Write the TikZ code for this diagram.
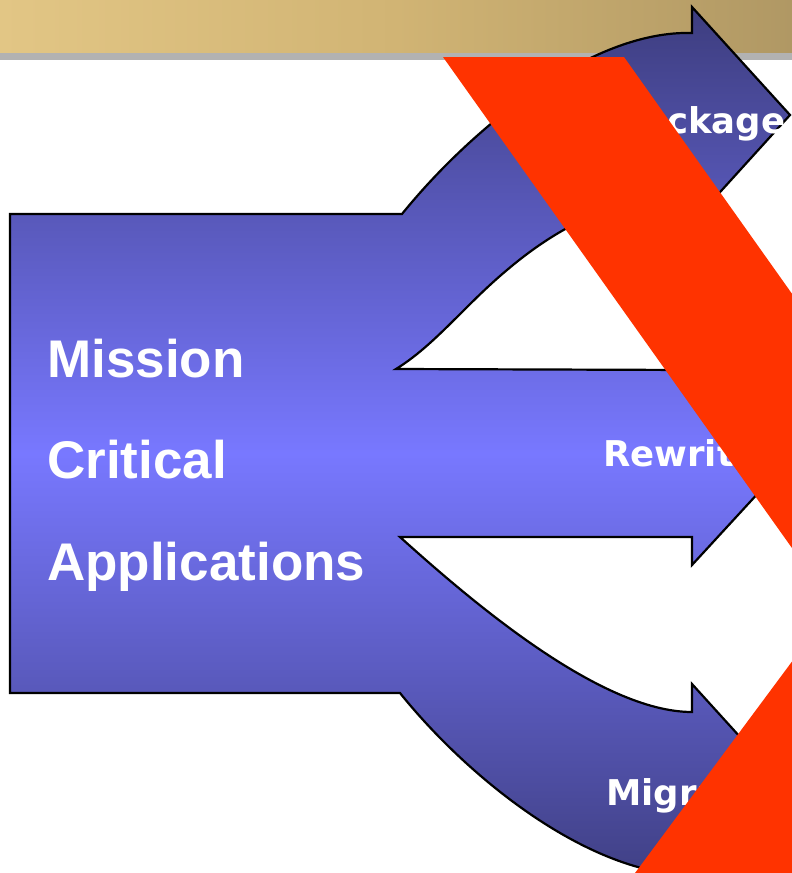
\documentclass[tikz,border=0pt]{standalone}
\usepackage{fontspec}
\setmainfont{Liberation Sans}
\newfontfamily\labelfont{DejaVu Sans}
\definecolor{bandL}{HTML}{E2C685}
\definecolor{bandM}{HTML}{D1B474}
\definecolor{bandR}{HTML}{B09864}
\definecolor{stripgray}{HTML}{B2B2B2}
\definecolor{arrowDark}{HTML}{3D3D7E}
\definecolor{arrowLight}{HTML}{7878FF}
\definecolor{crossred}{HTML}{FF3300}
\tikzset{
  bigtext/.style={anchor=base west, inner sep=0pt, text=white, font=\fontsize{53}{60}\selectfont\bfseries},
  arrowtext/.style={anchor=base west, inner sep=0pt, text=white, font=\labelfont\fontsize{35.5}{40}\selectfont\bfseries},
  redbar/.style={fill=crossred, draw=none}
}
\begin{document}
\begin{tikzpicture}[x=1pt,y=-1pt]
\useasboundingbox (0,0) rectangle (792,873);
\clip (0,0) rectangle (792,873);
% top band
\fill[left color=bandL, right color=bandR, middle color=bandM] (0,0) rectangle (792,53);
\fill[stripgray] (0,53) rectangle (792,60);
% big branching arrow
\draw[line width=2.2pt, line join=miter, top color=arrowDark, bottom color=arrowDark, middle color=arrowLight]
  (10,214) -- (402,214)
  .. controls (470,130) and (590,30) .. (692,33)
  -- (692,7) -- (790,115) -- (692,223) -- (692,195)
  .. controls (620,195) and (560,225) .. (507,270)
  .. controls (465,305) and (435,345) .. (396,369)
  -- (692,370) -- (692,342) -- (795,453) -- (692,565) -- (692,537)
  -- (400,537)
  .. controls (470,600) and (600,712) .. (692,712)
  -- (692,684) -- (790,792) -- (692,900) -- (692,875)
  .. controls (590,875) and (470,780) .. (400,693)
  -- (10,693) -- cycle;
% texts
\node[bigtext] (mission) at (47,377) {Mission};
\node[bigtext] (critical) at (47,478) {Critical};
\node[bigtext] (apps) at (47,580) {Applications};
\node[arrowtext] (package) at (618,133) {Package};
\node[arrowtext] (rewrite) at (603,466) {Rewrite};
\node[arrowtext] (migrate) at (606,805) {Migrate};
% red cross strokes
\fill[redbar] (443,57) -- (624,57) -- (900,446) -- (900,700) -- cycle;
\fill[redbar] (900,516) -- (900,900) -- (615,900) -- cycle;
\end{tikzpicture}
\end{document}
